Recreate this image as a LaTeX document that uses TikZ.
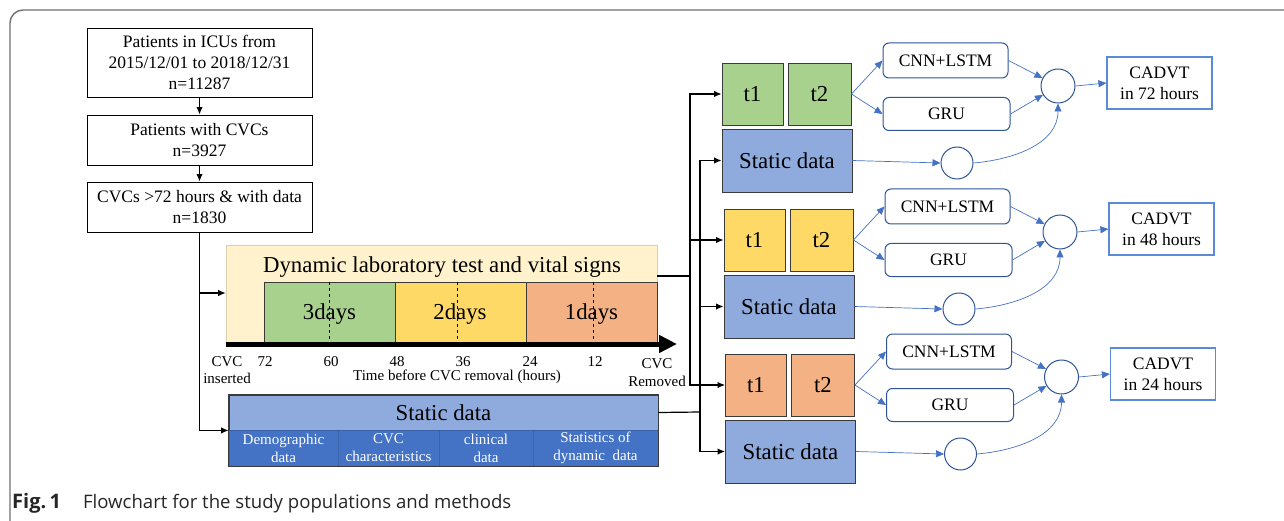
\documentclass[tikz,border=0pt]{standalone}
\usepackage{fontspec}
\setmainfont{Liberation Serif}
\newfontfamily\capfont{Open Sans}
\usetikzlibrary{arrows.meta}

\definecolor{cream}{HTML}{FFF2CC}
\definecolor{creamedge}{HTML}{D9CFAE}
\definecolor{dgreen}{HTML}{A9D18E}
\definecolor{dyellow}{HTML}{FFD966}
\definecolor{dorange}{HTML}{F4B183}
\definecolor{lblue}{HTML}{8FAADC}
\definecolor{dblue}{HTML}{4472C4}
\definecolor{celledge}{HTML}{3B62A8}
\definecolor{lineblue}{HTML}{4472C4}
\definecolor{edgeblue}{HTML}{2F5597}
\definecolor{outedge}{HTML}{5B8BD6}
\definecolor{boxedge}{HTML}{3A3A3A}
\definecolor{framegray}{HTML}{707070}

\newcommand\txtA{\fontsize{17.5}{21}\selectfont}
\newcommand\txtB{\fontsize{22.8}{27}\selectfont}
\newcommand\txtC{\fontsize{15}{18}\selectfont}

\tikzset{
  flowbox/.style={draw=black, line width=0.9pt, fill=white, align=center,
    inner sep=0pt, minimum width=225pt, font=\txtA},
  blk/.style={draw=black, line width=1.2pt, -{Latex[length=7.5pt,width=6.5pt]}},
  blkline/.style={draw=black, line width=1.2pt},
  cell/.style={draw=boxedge, line width=0.9pt, inner sep=0pt, font=\txtB},
  subcell/.style={draw=celledge, line width=0.6pt, fill=dblue, inner sep=0pt,
    minimum height=36pt, align=center, text=white, font=\txtC},
  bluearrow/.style={draw=lineblue, line width=0.7pt, -{Triangle[length=8pt,width=7pt]}},
  model/.style={draw=edgeblue, line width=1pt, rounded corners=6pt, fill=white,
    inner sep=0pt, font=\txtA},
  mix/.style={circle, draw=edgeblue, line width=1pt, fill=white, inner sep=0pt},
  outbox/.style={draw=outedge, line width=1.2pt, fill=white, align=center,
    inner sep=0pt, minimum width=105pt, minimum height=52pt, font=\txtA},
  tick/.style={font=\txtC, inner sep=0pt},
}

% One prediction branch: two time windows, static data, two models, fusion, outcome
\newcommand\modelgroup[4]{%
  \begin{scope}[shift={#1}]
    \node[cell, fill=#3, minimum width=61pt, minimum height=62pt] (ta#2) at (752.5,94) {t1};
    \node[cell, fill=#3, minimum width=63pt, minimum height=62pt] (tb#2) at (819.5,94) {t2};
    \node[cell, fill=lblue, minimum width=130pt, minimum height=63pt] (sd#2) at (787,160.5) {Static data};
    \node[model, minimum width=125pt, minimum height=35pt] (cnn#2) at (945.5,60.5) {CNN+LSTM};
    \node[model, minimum width=127pt, minimum height=33pt] (gru#2) at (946.5,114) {GRU};
    \node[mix, minimum size=34pt] (mx#2) at (1058,86) {};
    \node[mix, minimum size=32pt] (ms#2) at (957,163) {};
    \node[outbox] (out#2) at (1159.5,83) {CADVT\\in #4 hours};
  \end{scope}
  \draw[bluearrow] (tb#2.east) -- (cnn#2.west);
  \draw[bluearrow] (tb#2.east) -- (gru#2.west);
  \draw[bluearrow] (cnn#2.east) -- (mx#2);
  \draw[bluearrow] (gru#2.east) -- (mx#2);
  \draw[bluearrow] (mx#2.east) -- (out#2.west);
  \draw[bluearrow] (sd#2.east) -- (ms#2.west);
  \draw[bluearrow] (ms#2.east) to[out=5,in=-90] (mx#2.south);
}

\begin{document}
\begin{tikzpicture}[x=1pt, y=-1pt]
\useasboundingbox (0,0) rectangle (1284,521);

% page frame
\draw[framegray, line width=1.4pt, rounded corners=13pt] (10,560) |- (1320,10);

% cohort selection
\node[flowbox, minimum height=69pt] (p1) at (199.5,62.5)
  {Patients in ICUs from\\2015/12/01 to 2018/12/31\\n=11287};
\node[flowbox, minimum height=50pt] (p2) at (199.5,140) {Patients with CVCs\\n=3927};
\node[flowbox, minimum height=50pt] (p3) at (199.5,207) {CVCs >72 hours \& with data\\n=1830};
\draw[blk] (p1) -- (p2);
\draw[blk] (p2) -- (p3);

% dynamic data block
\node[draw=creamedge, line width=0.6pt, fill=cream, minimum width=431pt, minimum height=98pt,
  inner sep=0pt] (dyn) at (441.5,294) {};
\node[font=\txtB, inner sep=0pt] (dyntitle) at (442,267) {Dynamic laboratory test and vital signs};
\node[cell, fill=dgreen, minimum width=131pt, minimum height=61pt] (d3) at (329.5,312.5) {};
\node[cell, fill=dyellow, minimum width=131pt, minimum height=61pt] (d2) at (460.5,312.5) {};
\node[cell, fill=dorange, minimum width=131pt, minimum height=61pt] (d1) at (591.5,312.5) {};
\draw[dashed, line width=0.8pt] (329.5,282) -- (329.5,343);
\draw[dashed, line width=0.8pt] (457,282) -- (457,343);
\draw[dashed, line width=0.8pt] (593,282) -- (593,343);
\node[font=\txtB, inner sep=0pt] at (329.5,314) {3days};
\node[font=\txtB, inner sep=0pt] at (460,314) {2days};
\node[font=\txtB, inner sep=0pt] at (591.5,314) {1days};

% time axis
\draw[line width=5pt, -{Triangle[length=18pt,width=17pt]}] (226,344) -- (677,344);
\node[tick] at (265,362) {72};
\node[tick] at (331,362) {60};
\node[tick] at (397,362) {48};
\node[tick] at (463,362) {36};
\node[tick] at (530,362) {24};
\node[tick] at (595,362) {12};
\node[tick] at (227,362) {CVC};
\node[tick] at (227,378) {inserted};
\node[tick] at (457,377) {Time before CVC removal (hours)};
\node[tick] at (657,364) {CVC};
\node[tick] at (657,381) {Removed};

% static data block
\node[draw=boxedge, line width=0.9pt, fill=lblue, minimum width=429pt, minimum height=35pt,
  inner sep=0pt, font=\txtB] (stup) at (443.5,412.5) {Static data};
\node[subcell, minimum width=109pt] (c1) at (283.5,448) {Demographic\\data};
\node[subcell, minimum width=101pt] (c2) at (388.5,448) {CVC\\characteristics};
\node[subcell, minimum width=94pt] (c3) at (486,448) {clinical\\data};
\node[subcell, minimum width=125pt] (c4) at (595.5,448) {Statistics of\\dynamic\ \ data};
\draw[boxedge, line width=0.9pt] (stup.north west) rectangle (c4.south east);

% inputs to the two blocks
\coordinate (j1) at (200,293);
\draw[blk] (p3.south) |- (stup.south west);
\draw[blk] (j1) -- (dyn.west |- j1);

% prediction branches
\modelgroup{(0,0)}{A}{dgreen}{72}
\modelgroup{(2,146)}{B}{dyellow}{48}
\modelgroup{(3.5,291)}{C}{dorange}{24}

% distribution buses
\coordinate (busA) at (690,276);
\coordinate (busB) at (700,412);
\draw[blkline] (dyn.east |- busA) -- (busA);
\draw[blk] (busA) |- (taA.west);
\draw[blk] (busA) |- (taB.west);
\draw[blk] (busA) |- (taC.west);
\draw[blkline] (stup.east) -- (busB);
\draw[blk] (busB) |- (sdA.west);
\draw[blk] (busB) |- (sdB.west);
\draw[blk] (busB) |- (sdC.west);

% caption
\node[anchor=west, inner sep=0pt, font=\capfont\fontsize{18.6}{22}\selectfont, text=black!85] (cap) at (12,503)
  {{\fontsize{20}{22}\selectfont\textbf{Fig.\,1}}\hspace{22pt}Flowchart for the study populations and methods};
\end{tikzpicture}
\end{document}
